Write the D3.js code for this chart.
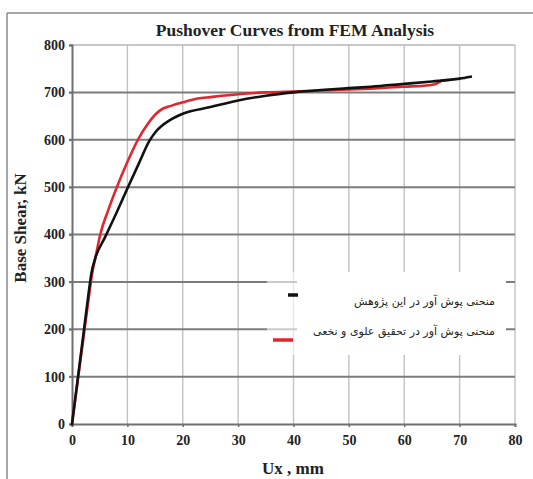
<!DOCTYPE html>
<html>
<head>
<meta charset="utf-8">
<script src="https://cdn.jsdelivr.net/npm/d3@7"></script>
<style>
  html, body { margin: 0; padding: 0; background: #fff; }
  svg { display: block; }
</style>
</head>
<body>
<svg id="chart" width="533" height="479"></svg>
<script>
// Pushover curve of this study: displacement Ux (mm) and base shear (kN)
const thisStudyUx = [0, 1, 2, 3, 3.5, 4.2, 6, 8, 10, 12, 14, 15.2, 17.6, 20, 25, 30, 35, 40, 45, 50, 54, 60, 65, 70, 72];
const thisStudyV  = [0, 92, 184, 276, 318, 350, 395, 445, 497, 548, 598, 618, 641, 655, 669, 683, 693, 700, 705, 709, 712, 718, 723, 729, 733];

// Pushover curve reported by Alavi & Nakhaei
const alaviUx = [0, 1, 2, 3, 3.6, 4.3, 5.1, 6.5, 8.1, 10, 11.9, 13.7, 15.9, 18, 20, 22.7, 25, 30, 35, 40, 45, 50, 54, 60, 63.5, 65.5, 66.9];
const alaviV  = [0, 88, 176, 264, 315, 355, 400, 450, 500, 553, 600, 634, 662, 672, 679, 687, 690, 696, 700, 702, 704, 706, 708, 712, 714, 717, 726];

const xTicks = [0, 10, 20, 30, 40, 50, 60, 70, 80];
const yTicks = [0, 100, 200, 300, 400, 500, 600, 700, 800];

const titleText = "Pushover Curves from FEM Analysis";
const xTitle = "Ux , mm";
const yTitle = "Base Shear, kN";
const legendLabels = ["منحنی پوش آور در این پژوهش", "منحنی پوش آور در تحقیق علوی و نخعی"];
const seriesColors = ["#111111", "#e1262d"];

const svg = d3.select("#chart");
const serif = "'Liberation Serif', 'Times New Roman', serif";

const x = d3.scaleLinear().domain([0, 80]).range([72, 515]);
const y = d3.scaleLinear().domain([0, 800]).range([424, 45]);

// outer frame (top and left edges)
svg.append("line").attr("x1", 7).attr("x2", 533).attr("y1", 13).attr("y2", 13)
  .attr("stroke", "#8a8a8a").attr("stroke-width", 1.5);
svg.append("line").attr("x1", 7).attr("x2", 7).attr("y1", 13).attr("y2", 479)
  .attr("stroke", "#8a8a8a").attr("stroke-width", 1.5);

// vertical grid
svg.append("g").selectAll("line").data(xTicks.slice(1)).join("line")
  .attr("x1", d => x(d)).attr("x2", d => x(d))
  .attr("y1", y(800)).attr("y2", y(0))
  .attr("stroke", "#c2c2c2").attr("stroke-width", 1.4);

// horizontal grid
svg.append("g").selectAll("line").data(yTicks.slice(1)).join("line")
  .attr("x1", x(0) - 3).attr("x2", x(80))
  .attr("y1", d => y(d)).attr("y2", d => y(d))
  .attr("stroke", d => d === 800 ? "#b5b5b5" : "#7c7c7c")
  .attr("stroke-width", d => d === 800 ? 1.4 : 2);

// axes
const xAxis = d3.axisBottom(x).tickValues(xTicks).tickSize(3).tickPadding(8);
const yAxis = d3.axisLeft(y).tickValues(yTicks).tickSize(3).tickPadding(4);

const gx = svg.append("g").attr("transform", `translate(0,${y(0)})`).call(xAxis);
const gy = svg.append("g").attr("transform", `translate(${x(0)},0)`).call(yAxis);
[gx, gy].forEach(g => {
  g.select(".domain").attr("stroke", "#6f6f6f").attr("stroke-width", 2);
  g.selectAll(".tick line").attr("stroke", "#6f6f6f").attr("stroke-width", 1.5);
  g.selectAll(".tick text")
    .attr("font-family", serif).attr("font-weight", "bold")
    .attr("font-size", 14).attr("fill", "#222");
});

// legend background
svg.append("rect").attr("x", 267).attr("y", 272).attr("width", 30).attr("height", 83)
  .attr("fill", "#fff").attr("fill-opacity", 0.6);
svg.append("rect").attr("x", 297).attr("y", 272).attr("width", 209).attr("height", 83)
  .attr("fill", "#fff");

// curves
const line = d3.line().x(d => x(d[0])).y(d => y(d[1])).curve(d3.curveMonotoneX);
const alaviPts = alaviUx.map((u, i) => [u, alaviV[i]]);
const thisPts = thisStudyUx.map((u, i) => [u, thisStudyV[i]]);

svg.append("path").datum(alaviPts).attr("d", line)
  .attr("fill", "none").attr("stroke", seriesColors[1]).attr("stroke-width", 2.6)
  .attr("stroke-linejoin", "round");
svg.append("path").datum(thisPts).attr("d", line)
  .attr("fill", "none").attr("stroke", seriesColors[0]).attr("stroke-width", 2.6)
  .attr("stroke-linejoin", "round").attr("stroke-linecap", "square");

// legend entries
const legendRows = [
  { label: legendLabels[0], color: seriesColors[0], x1: 288, x2: 298, my: 295, ty: 302 },
  { label: legendLabels[1], color: seriesColors[1], x1: 273, x2: 293, my: 340, ty: 332 }
];
const lg = svg.append("g");
lg.selectAll("line").data(legendRows).join("line")
  .attr("x1", d => d.x1).attr("x2", d => d.x2)
  .attr("y1", d => d.my).attr("y2", d => d.my)
  .attr("stroke", d => d.color).attr("stroke-width", 3.5);
lg.selectAll("text").data(legendRows).join("text")
  .attr("x", 495).attr("y", d => d.ty)
  .attr("direction", "rtl").attr("text-anchor", "start")
  .attr("dominant-baseline", "middle")
  .attr("font-family", "'DejaVu Sans', sans-serif")
  .attr("font-size", 11).attr("fill", "#222")
  .text(d => d.label);

// title
svg.append("text").attr("x", 295).attr("y", 36).attr("text-anchor", "middle")
  .attr("font-family", serif).attr("font-weight", "bold").attr("font-size", 17.5)
  .attr("fill", "#222").text(titleText);

// axis titles
svg.append("text").attr("x", 293).attr("y", 474).attr("text-anchor", "middle")
  .attr("font-family", serif).attr("font-weight", "bold").attr("font-size", 17)
  .attr("fill", "#222").text(xTitle);
svg.append("text").attr("transform", "translate(26,228) rotate(-90)")
  .attr("text-anchor", "middle")
  .attr("font-family", serif).attr("font-weight", "bold").attr("font-size", 17)
  .attr("fill", "#222").text(yTitle);
</script>
</body>
</html>
